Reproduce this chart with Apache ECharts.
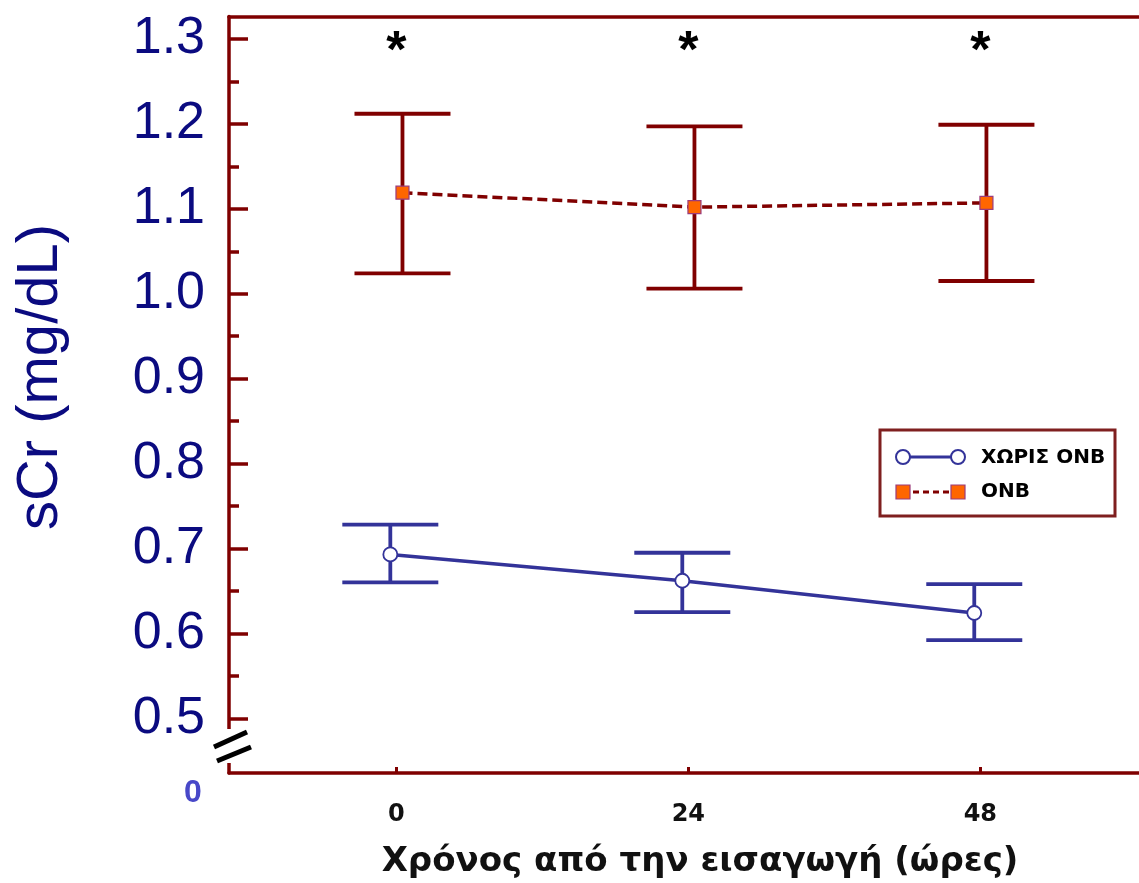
<!DOCTYPE html>
<html>
<head>
<meta charset="utf-8">
<title>sCr</title>
<script src="https://cdn.jsdelivr.net/npm/echarts@6/dist/echarts.min.js"></script>
<style>
  html, body { margin: 0; padding: 0; background: #ffffff; }
  #chart { width: 1139px; height: 883px; }
</style>
</head>
<body>
<div id="chart"></div>
<script>
// Time points (hours since admission)
const hours = [0, 24, 48];

// Serum creatinine, mean and error-bar limits (mg/dL)
const noOnbMean  = [0.693, 0.662, 0.624];
const noOnbUpper = [0.728, 0.695, 0.658];
const noOnbLower = [0.660, 0.625, 0.592];

const onbMean  = [1.119, 1.102, 1.107];
const onbUpper = [1.212, 1.197, 1.199];
const onbLower = [1.024, 1.006, 1.015];

// Time points with a significant difference between groups
const significant = [0, 24, 48];

// Axis tick labels
const yTickValues  = [0.5, 0.6, 0.7, 0.8, 0.9, 1.0, 1.1, 1.2, 1.3];
const yMinorValues = [0.55, 0.65, 0.75, 0.85, 0.95, 1.05, 1.15, 1.25];

const seriesNames = ['ΧΩΡΙΣ ΟΝΒ', 'ΟΝΒ'];
const xTitle = 'Χρόνος από την εισαγωγή (ώρες)';
const yTitle = 'sCr (mg/dL)';

// ---- styling ----
const AXIS = '#7f0000';
const BLUE = '#333399';
const RED = '#800000';
const ORANGE = '#ff6600';
const NAVY = '#0b0b80';

const GRID_LEFT = 229, GRID_TOP = 16.5, GRID_H = 756.5, GRID_W = 946;
const X_MIN = -13.76, X_MAX = 64;
const Y_MIN = 0.4356, Y_MAX = 1.3265;
const DODGE = 0.5;      // small horizontal offset between the two groups (hours)
const CAP_HALF = 48;    // half width of error-bar caps (px)
const STAR_Y = 1.289;

function errorBars(color) {
  return function (params, api) {
    const x = api.value(0);
    const hi = api.coord([x, api.value(2)]);
    const lo = api.coord([x, api.value(1)]);
    const st = { stroke: color, lineWidth: 3.8, lineCap: 'butt' };
    return {
      type: 'group',
      children: [
        { type: 'line', shape: { x1: hi[0], y1: hi[1], x2: lo[0], y2: lo[1] }, style: st },
        { type: 'line', shape: { x1: hi[0] - CAP_HALF, y1: hi[1], x2: hi[0] + CAP_HALF, y2: hi[1] }, style: st },
        { type: 'line', shape: { x1: lo[0] - CAP_HALF, y1: lo[1], x2: lo[0] + CAP_HALF, y2: lo[1] }, style: st }
      ]
    };
  };
}

const noOnbX = hours.map(h => h - DODGE);
const onbX = hours.map(h => h + DODGE);

const chart = echarts.init(document.getElementById('chart'), null, { renderer: 'canvas' });

const option = {
  backgroundColor: '#ffffff',
  animation: false,
  grid: {
    left: GRID_LEFT, top: GRID_TOP, width: GRID_W, height: GRID_H,
    containLabel: false, outerBoundsMode: 'none'
  },
  xAxis: [
    {
      type: 'value', min: X_MIN, max: X_MAX, position: 'bottom',
      axisLine: { show: true, onZero: false, lineStyle: { color: AXIS, width: 3.5 } },
      axisTick: { show: true, inside: true, length: 6, customValues: hours, lineStyle: { color: AXIS, width: 3 } },
      axisLabel: {
        customValues: hours, margin: 30, fontSize: 24, fontWeight: 'bold',
        fontFamily: 'DejaVu Sans', color: '#111111'
      },
      splitLine: { show: false }
    },
    {
      type: 'value', min: X_MIN, max: X_MAX, position: 'top',
      axisLine: { show: true, onZero: false, lineStyle: { color: AXIS, width: 3.5 } },
      axisTick: { show: false }, axisLabel: { show: false }, splitLine: { show: false }
    }
  ],
  yAxis: [
    {
      type: 'value', min: Y_MIN, max: Y_MAX, position: 'left',
      axisLine: { show: true, onZero: false, lineStyle: { color: AXIS, width: 3.5 } },
      axisTick: { show: true, inside: true, length: 19, customValues: yTickValues, lineStyle: { color: AXIS, width: 3.5 } },
      axisLabel: {
        customValues: yTickValues, formatter: v => v.toFixed(1), margin: 24,
        fontSize: 52, fontFamily: 'Liberation Sans', color: NAVY
      },
      splitLine: { show: false }
    },
    {
      type: 'value', min: Y_MIN, max: Y_MAX, position: 'left',
      axisLine: { show: false, onZero: false },
      axisTick: { show: true, inside: true, length: 10, customValues: yMinorValues, lineStyle: { color: AXIS, width: 3.5 } },
      axisLabel: { show: false }, splitLine: { show: false }
    }
  ],
  series: [
    {
      name: seriesNames[0] + ' SD', type: 'custom', renderItem: errorBars(BLUE), z: 2,
      data: hours.map((h, i) => [noOnbX[i], noOnbLower[i], noOnbUpper[i]])
    },
    {
      name: seriesNames[1] + ' SD', type: 'custom', renderItem: errorBars(RED), z: 2,
      data: hours.map((h, i) => [onbX[i], onbLower[i], onbUpper[i]])
    },
    {
      name: seriesNames[0], type: 'line', z: 3,
      data: noOnbX.map((x, i) => [x, noOnbMean[i]]),
      lineStyle: { color: BLUE, width: 3.5 },
      symbol: 'circle', symbolSize: 14,
      itemStyle: { color: '#ffffff', borderColor: BLUE, borderWidth: 1.8 }
    },
    {
      name: seriesNames[1], type: 'line', z: 3,
      data: onbX.map((x, i) => [x, onbMean[i]]),
      lineStyle: { color: RED, width: 3.5, type: [10, 5] },
      symbol: 'rect', symbolSize: 13,
      itemStyle: { color: ORANGE, borderColor: '#9b3b7b', borderWidth: 1.2 }
    },
    {
      name: 'p', type: 'scatter', symbolSize: 0, z: 4,
      data: significant.map(h => [h, STAR_Y]),
      itemStyle: { opacity: 1 },
      label: {
        show: true, position: 'inside', formatter: '*', opacity: 1,
        fontSize: 52, fontWeight: 'bold', fontFamily: 'Liberation Sans', color: '#000000', offset: [0, 4]
      }
    }
  ],
  graphic: [
    // axis break on the value axis
    { type: 'rect', z: 100, shape: { x: 221, y: 729, width: 16, height: 34 }, style: { fill: '#ffffff' } },
    { type: 'line', z: 101, shape: { x1: 214, y1: 747, x2: 247, y2: 732 }, style: { stroke: '#000000', lineWidth: 5 } },
    { type: 'line', z: 101, shape: { x1: 217, y1: 761, x2: 251, y2: 747 }, style: { stroke: '#000000', lineWidth: 5 } },
    {
      type: 'text', z: 101, x: 193, y: 793,
      style: { text: '0', font: 'bold 32px "Liberation Sans"', fill: '#4848c8', align: 'center', verticalAlign: 'middle' }
    },
    // axis titles
    {
      type: 'text', z: 101, x: 41, y: 377, rotation: Math.PI / 2,
      style: { text: yTitle, font: '58px "Liberation Sans"', fill: NAVY, align: 'center', verticalAlign: 'middle' }
    },
    {
      type: 'text', z: 101, x: 700, y: 862,
      style: { text: xTitle, font: 'bold 34px "DejaVu Sans"', fill: '#111111', align: 'center', verticalAlign: 'middle' }
    },
    // legend
    {
      type: 'group', z: 101,
      children: [
        { type: 'rect', shape: { x: 880, y: 430, width: 235, height: 86 }, style: { fill: '#ffffff', stroke: '#7f1f1f', lineWidth: 3 } },
        { type: 'line', shape: { x1: 903, y1: 457, x2: 958, y2: 457 }, style: { stroke: BLUE, lineWidth: 3 } },
        { type: 'circle', shape: { cx: 903, cy: 457, r: 7 }, style: { fill: '#ffffff', stroke: BLUE, lineWidth: 2 } },
        { type: 'circle', shape: { cx: 958, cy: 457, r: 7 }, style: { fill: '#ffffff', stroke: BLUE, lineWidth: 2 } },
        { type: 'text', x: 981, y: 458, style: { text: seriesNames[0], font: 'bold 20px "DejaVu Sans"', fill: '#000000', verticalAlign: 'middle' } },
        { type: 'line', shape: { x1: 903, y1: 492, x2: 958, y2: 492 }, style: { stroke: RED, lineWidth: 3, lineDash: [6, 4] } },
        { type: 'rect', shape: { x: 896, y: 485, width: 14, height: 14 }, style: { fill: ORANGE, stroke: '#9b3b7b', lineWidth: 1.2 } },
        { type: 'rect', shape: { x: 951, y: 485, width: 14, height: 14 }, style: { fill: ORANGE, stroke: '#9b3b7b', lineWidth: 1.2 } },
        { type: 'text', x: 981, y: 492, style: { text: seriesNames[1], font: 'bold 20px "DejaVu Sans"', fill: '#000000', verticalAlign: 'middle' } }
      ]
    }
  ]
};

chart.setOption(option);
</script>
</body>
</html>
